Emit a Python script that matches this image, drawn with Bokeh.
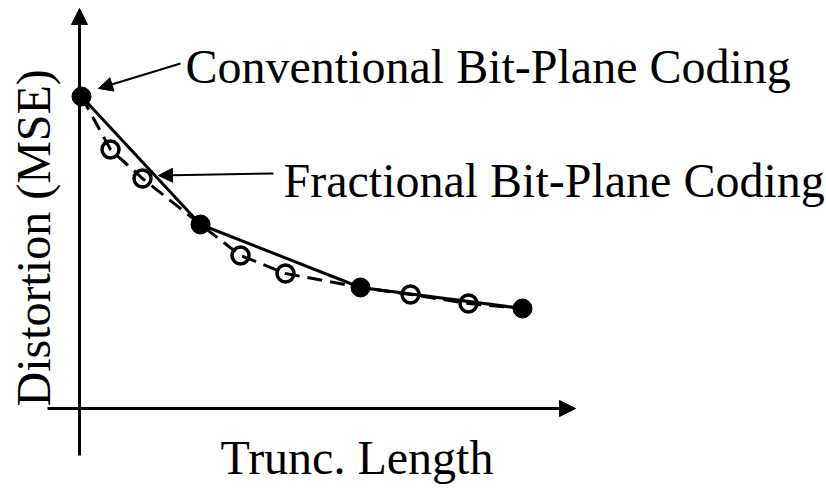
from bokeh.plotting import figure
from bokeh.models import Range1d, Arrow, NormalHead, Label
from bokeh.embed import file_html
from bokeh.resources import INLINE
import math

# Conventional bit-plane coding (filled points, solid line)
conv_len = [0.2, 12.1, 28.1, 44.3]
conv_mse = [31.2, 18.4, 12.1, 10.0]

# Fractional bit-plane coding (open points, dashed line through all points)
frac_open_len = [3.1, 6.3, 16.1, 20.6, 33.1, 38.9]
frac_open_mse = [25.9, 23.0, 15.3, 13.5, 11.4, 10.5]
frac_len = [0.2, 3.1, 6.3, 12.1, 16.1, 20.6, 28.1, 33.1, 38.9, 44.3]
frac_mse = [31.2, 25.9, 23.0, 18.4, 15.3, 13.5, 12.1, 11.4, 10.5, 10.0]

x_title = "Trunc. Length"
y_title = "Distortion (MSE)"
conv_name = "Conventional Bit-Plane Coding"
frac_name = "Fractional Bit-Plane Coding"

FONT = "Liberation Serif"

p = figure(width=826, height=489, x_range=Range1d(-7.9, 74.7), y_range=Range1d(-8.1, 40.8),
           x_axis_type=None, y_axis_type=None, min_border=0,
           toolbar_location=None, output_backend="svg")
p.grid.visible = False
p.outline_line_color = None
p.background_fill_color = "white"
p.border_fill_color = "white"

# axes with arrow heads
p.add_layout(Arrow(x_start=0, y_start=-4.7, x_end=0, y_end=40.0,
                   line_width=3, line_color="black",
                   end=NormalHead(size=16, fill_color="black", line_color="black", line_width=1)))
p.add_layout(Arrow(x_start=-3.2, y_start=0, x_end=49.6, y_end=0,
                   line_width=3, line_color="black",
                   end=NormalHead(size=16, fill_color="black", line_color="black", line_width=1)))

# series
p.line(conv_len, conv_mse, line_width=3, line_color="black")
p.line(frac_len, frac_mse, line_width=3, line_color="black", line_dash="15 8")
p.scatter(frac_open_len, frac_open_mse, size=17, marker="circle", fill_color=None,
          line_color="black", line_width=3.5)
p.scatter(conv_len, conv_mse, size=19, marker="circle", fill_color="black", line_color="black")

# annotation arrows
p.add_layout(Arrow(x_start=10.1, y_start=34.5, x_end=1.9, y_end=32.0,
                   line_width=2, line_color="black",
                   end=NormalHead(size=14, fill_color="black", line_color="black", line_width=1)))
p.add_layout(Arrow(x_start=19.4, y_start=23.5, x_end=7.9, y_end=23.3,
                   line_width=2, line_color="black",
                   end=NormalHead(size=14, fill_color="black", line_color="black", line_width=1)))

# texts
p.add_layout(Label(x=10.6, y=34.2, text=conv_name, text_font=FONT, text_font_size="48px",
                   text_baseline="alphabetic", text_align="left", text_color="black"))
p.add_layout(Label(x=20.4, y=22.8, text=frac_name, text_font=FONT, text_font_size="48px",
                   text_baseline="alphabetic", text_align="left", text_color="black"))
p.add_layout(Label(x=14.1, y=-4.9, text=x_title, text_font=FONT, text_font_size="48px",
                   text_baseline="alphabetic", text_align="left", text_color="black"))
p.add_layout(Label(x=-4.6, y=0.2, text=y_title, text_font=FONT, text_font_size="48px",
                   angle=math.pi / 2, text_baseline="alphabetic", text_align="left",
                   text_color="black"))

open("out.html", "w").write(file_html(p, INLINE))
